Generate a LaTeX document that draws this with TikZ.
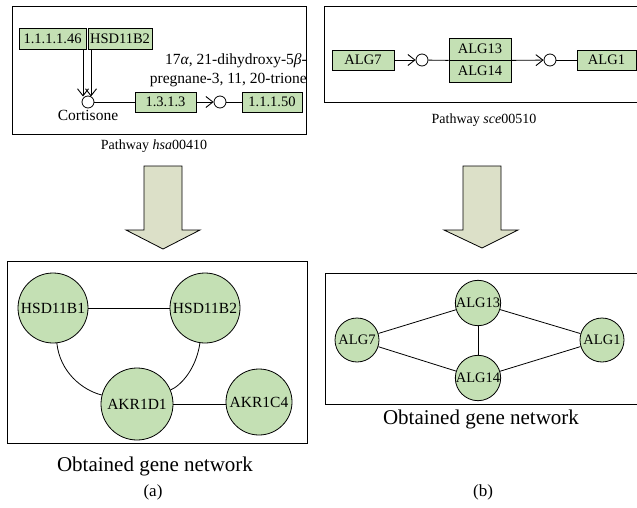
\documentclass[tikz,border=0pt]{standalone}
\usepackage{fontspec}
\setmainfont{Liberation Serif}
\usetikzlibrary{arrows.meta}
\definecolor{nodegreen}{RGB}{196,224,180}
\definecolor{arrowfill}{RGB}{220,224,200}
\begin{document}
\begin{tikzpicture}[x=1pt,y=-1pt,
  frame/.style={draw, line width=0.9pt},
  enzbox/.style={draw, fill=nodegreen, line width=0.8pt, inner sep=0pt, font=\fontsize{14.5}{16}\selectfont},
  cpd/.style={circle, draw, fill=white, line width=0.8pt, minimum size=12pt, inner sep=0pt},
  gene/.style={circle, draw, fill=nodegreen, line width=0.8pt, inner sep=0pt, font=\fontsize{15.5}{17}\selectfont},
  sgene/.style={circle, draw, fill=nodegreen, line width=0.8pt, inner sep=0pt, minimum size=44pt, font=\fontsize{14.5}{16}\selectfont},
  link/.style={line width=0.8pt},
  react/.style={line width=0.8pt, -{Straight Barb[length=7pt,width=11pt,line width=0.9pt]}},
  bigarrow/.style={draw, fill=arrowfill, line width=0.8pt},
  txt/.style={font=\fontsize{15.5}{19}\selectfont, inner sep=0pt},
  capsmall/.style={font=\fontsize{14}{16}\selectfont, inner sep=0pt},
  capbig/.style={font=\fontsize{21}{24}\selectfont, inner sep=0pt},
  lab/.style={font=\fontsize{17}{20}\selectfont, inner sep=0pt}
]
\useasboundingbox (0,0) rectangle (637,508);
\clip (0,0) rectangle (637,508);

% ---------- top left pathway ----------
\draw[frame] (12,6) rectangle (306,134);
\node[enzbox, minimum width=67pt, minimum height=21pt] (e1) at (52.5,38.5) {1.1.1.1.46};
\node[enzbox, minimum width=64pt, minimum height=21pt] (e2) at (120,38.5) {HSD11B2};
\node[cpd] (cort) at (88,102) {};
\node[txt, anchor=north] (cortl) at (88,110) {Cortisone};
\coordinate (t1) at (83,96.5);
\coordinate (t2) at (91,96.5);
\draw[react] (e1.south -| t1) -- (t1);
\draw[react] (e2.south -| t2) -- (t2);
\node[enzbox, minimum width=61pt, minimum height=20pt] (e3) at (165.5,102) {1.3.1.3};
\node[cpd] (c2) at (220,102) {};
\node[enzbox, minimum width=60pt, minimum height=20pt] (e4) at (272,102) {1.1.1.50};
\draw[link] (cort) -- (e3);
\draw[react] (e3) -- (c2);
\draw[link] (c2) -- (e4);
\node[txt, anchor=east, align=right] (prod) at (307,70.5) {17\textit{α}, 21-dihydroxy-5\textit{β}-\\pregnane-3, 11, 20-trione};
\node[capsmall] (capA) at (154,146) {Pathway \textit{hsa}00410};

% ---------- top right pathway ----------
\draw[frame] (324,6) rectangle (660,102);
\node[enzbox, minimum width=62pt, minimum height=20pt] (alg7) at (363,60) {ALG7};
\node[cpd] (c3) at (422,60) {};
\node[enzbox, minimum width=62pt, minimum height=22pt] (alg13) at (480,49) {ALG13};
\node[enzbox, minimum width=62pt, minimum height=22pt] (alg14) at (480,71) {ALG14};
\node[cpd] (c4) at (550,60) {};
\node[enzbox, minimum width=59pt, minimum height=20pt] (alg1) at (606.5,60) {ALG1};
\draw[react] (alg7) -- (c3);
\draw[link] (c3) -- (alg13.south west);
\draw[react] (alg13.south east) -- (c4);
\draw[link] (c4) -- (alg1);
\node[capsmall] (capB) at (484,120) {Pathway \textit{sce}00510};

% ---------- big arrows ----------
\draw[bigarrow] (144,166) -- (182,166) -- (182,230) -- (200,230) -- (163,249) -- (126,230) -- (144,230) -- cycle;
\draw[bigarrow] (463,166) -- (501,166) -- (501,230) -- (518,230) -- (482,248) -- (444,230) -- (463,230) -- cycle;

% ---------- bottom left network ----------
\draw[frame] (7,261) rectangle (307,443);
\node[gene, minimum size=70pt] (h1) at (53,308) {HSD11B1};
\node[gene, minimum size=70pt] (h2) at (205,308) {HSD11B2};
\node[gene, minimum size=72pt] (a1) at (137,404) {AKR1D1};
\node[gene, minimum size=66pt] (a4) at (259,402) {AKR1C4};
\draw[link] (h1) -- (h2);
\draw[link] (a1.east) -- (a1.east -| a4.west);
\draw[link] (h1) .. controls (60,372) and (82,390) .. (a1);
\draw[link] (h2) .. controls (196,370) and (180,386) .. (a1);
\node[capbig] (netA) at (155,466) {Obtained gene network};
\node[lab] (la) at (153,492) {(a)};

% ---------- bottom right network ----------
\draw[frame] (325,273) rectangle (660,404);
\node[sgene] (g7) at (357,340) {ALG7};
\node[sgene] (g13) at (478,303) {ALG13};
\node[sgene] (g14) at (478,378) {ALG14};
\node[sgene] (g1) at (602,340) {ALG1};
\draw[link] (g7) -- (g13);
\draw[link] (g7) -- (g14);
\draw[link] (g13) -- (g14);
\draw[link] (g13) -- (g1);
\draw[link] (g14) -- (g1);
\node[capbig] (netB) at (481,419) {Obtained gene network};
\node[lab] (lb) at (483,492) {(b)};
\end{tikzpicture}
\end{document}
